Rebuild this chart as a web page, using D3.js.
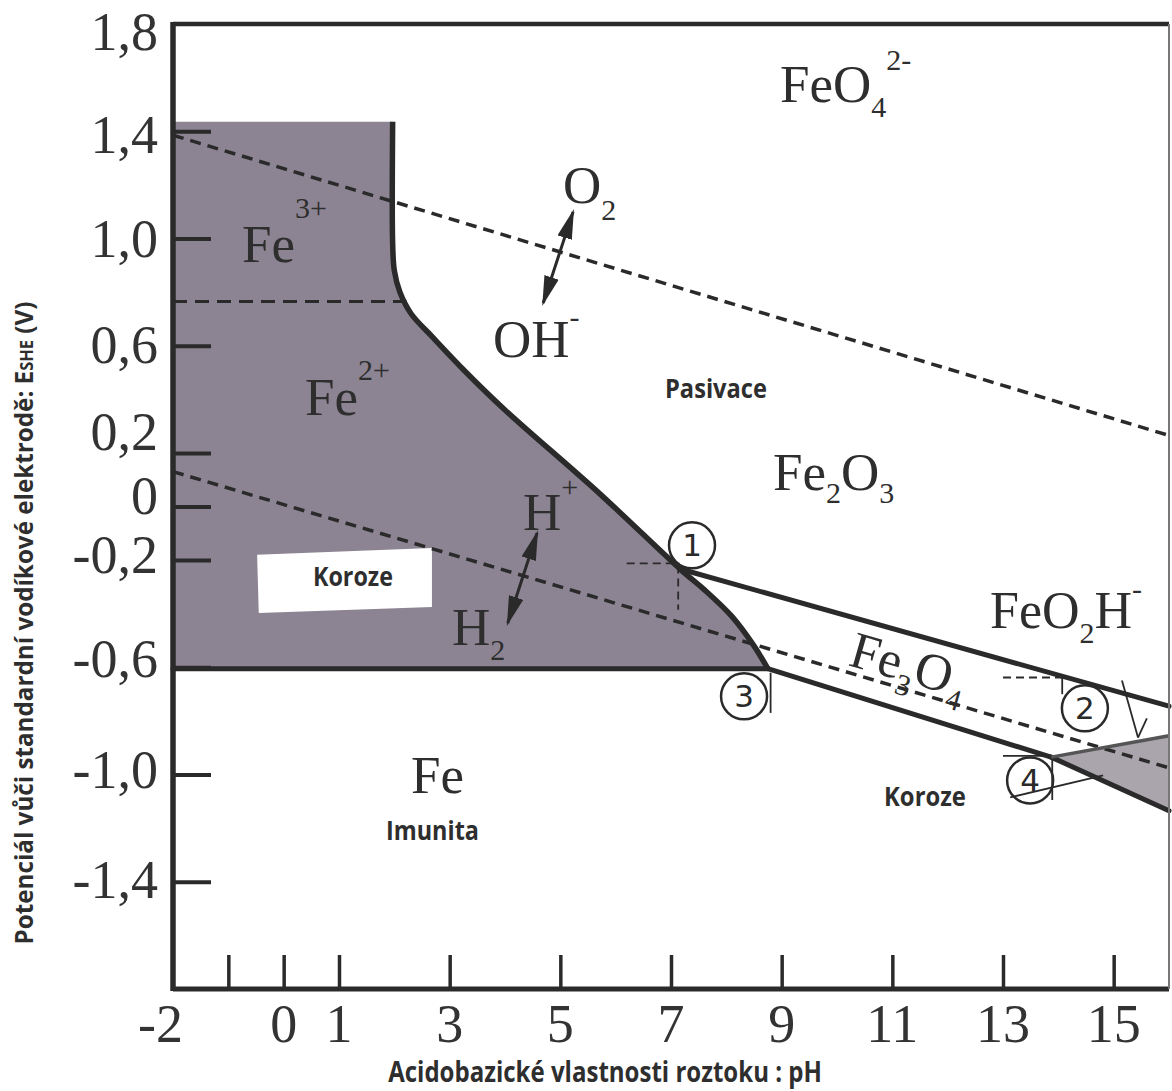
<!DOCTYPE html>
<html><head><meta charset="utf-8">
<script src="https://cdn.jsdelivr.net/npm/d3@7"></script>
<style>html,body{margin:0;padding:0;background:#fff;} svg{display:block;}</style>
</head><body>
<svg id="chart" width="1172" height="1091"></svg>
<script>
// ---------- data (pH, E in V) ----------
const xTickValues = [-1, 0, 1, 3, 5, 7, 9, 11, 13, 15];
const xLabelValues = [-2, 0, 1, 3, 5, 7, 9, 11, 13, 15];
const yTickValues = [1.4, 1.0, 0.6, 0.2, 0, -0.2, -0.6, -1.0, -1.4];
const yLabelValues = [1.8, 1.4, 1.0, 0.6, 0.2, 0, -0.2, -0.6, -1.0, -1.4];
const yLabelTexts = ["1,8", "1,4", "1,0", "0,6", "0,2", "0", "-0,2", "-0,6", "-1,0", "-1,4"];

const corrosionTop = 1.435;
const feLevel = -0.605;
const corrosionBoundary = [[1.97,1.435],[1.97,0.98],[2.0,0.88],[2.1,0.80],[2.3,0.72],[2.7,0.63],[3.3,0.50],[4.0,0.36],[5.7,0.05],[7.2,-0.24],[7.6,-0.31],[8.1,-0.41],[8.5,-0.52],[8.75,-0.605]];
const fe3Fe2Line = [[-2,0.765],[2.22,0.765]];
const oxygenLine = [[-2,1.385],[16,0.265]];
const hydrogenLine = [[-2,0.13],[16,-0.975]];
const fe2o3Fe3o4Line = [[7.2,-0.235],[16,-0.745]];
const fe3o4FeLine = [[8.75,-0.605],[13.87,-0.935]];
const wedgeTop = [[13.87,-0.935],[16,-0.855]];
const wedgeBottom = [[13.87,-0.935],[16,-1.135]];
const korozeBox = [[-0.48,-0.18],[2.68,-0.155],[2.68,-0.375],[-0.45,-0.397]];

const guideDashed = [
  [[6.2,-0.212],[7.15,-0.212]],
  [[7.13,-0.22],[7.13,-0.385]],
  [[13.0,-0.638],[14.07,-0.638]]
];
const guideSolid = [
  [[14.07,-0.638],[14.07,-0.70]],
  [[8.8,-0.62],[8.8,-0.77]],
  [[13.0,-0.93],[13.89,-0.93]],
  [[13.89,-0.935],[13.89,-1.095]],
  [[13.13,-1.085],[14.81,-1.003]],
  [[15.15,-0.649],[15.44,-0.862]],
  [[15.44,-0.862],[15.6,-0.79]]
];
const circleMarks = [
  {n:"1", pH:7.38, E:-0.145},
  {n:"2", pH:14.48, E:-0.753},
  {n:"3", pH:8.32, E:-0.708},
  {n:"4", pH:13.49, E:-1.022}
];
const arrows = [
  [[4.69,0.759],[5.23,1.099]],
  [[4.05,-0.435],[4.58,-0.099]]
];
// chemical species labels: parts [text, size, baseline shift]
const speciesLabels = [
  {pH:-0.753, E:0.912, parts:[["Fe",53,0],["3+",30,-44]]},
  {pH:0.386, E:0.341, parts:[["Fe",53,0],["2+",30,-35]]},
  {pH:8.97, E:1.509, parts:[["FeO",53,0],["4",30,15],["2-",30,-32]]},
  {pH:5.048, E:1.132, parts:[["O",53,0],["2",30,17]]},
  {pH:3.783, E:0.558, parts:[["OH",53,0],["-",30,-30]]},
  {pH:8.843, E:0.062, parts:[["Fe",53,0],["2",30,13],["O",53,0],["3",30,13]]},
  {pH:4.325, E:-0.088, parts:[["H",53,0],["+",30,-33]]},
  {pH:3.042, E:-0.517, parts:[["H",53,0],["2",30,15]]},
  {pH:2.301, E:-1.069, parts:[["Fe",53,0]]},
  {pH:12.765, E:-0.453, parts:[["FeO",52,0],["2",30,15],["H",52,0],["-",30,-29]]}
];
const fe3o4Label = {pH:10.18, E:-0.591, angle:16, parts:[["Fe",52,0],["3",30,14],["O",52,0],["4",30,14]]};
const regionLabels = [
  {pH:6.892, E:0.405, text:"Pasivace", w:102},
  {pH:0.53, E:-0.297, text:"Koroze", w:80},
  {pH:1.849, E:-1.244, text:"Imunita", w:93},
  {pH:10.85, E:-1.117, text:"Koroze", w:82}
];
const xTitle = "Acidobazické vlastnosti roztoku : pH";
const yTitleParts = ["Potenciál vůči standardní vodíkové elektrodě: E", "SHE", " (V)"];

// ---------- drawing ----------
const svg = d3.select("#chart");
const x = d3.scaleLinear().domain([-2, 16]).range([173, 1169]);
const y = d3.scaleLinear().domain([-1.8, 1.8]).range([989, 24]);
const line = d3.line().x(d => x(d[0])).y(d => y(d[1]));
const curve = d3.line().x(d => x(d[0])).y(d => y(d[1])).curve(d3.curveCatmullRom.alpha(0.5));
const INK = "#2a2a2a";
const SERIF = "'Liberation Serif','Times New Roman',serif";
const SANS = "'Open Sans','Noto Sans',sans-serif";
// baseline offsets of the y tick labels as printed in the original
const yLabelDy = [26, 22, 19, 17, -3, 7, 13, 10, 13, 16];

const defs = svg.append("defs");
defs.append("marker").attr("id","ah").attr("viewBox","0 0 10 10")
  .attr("refX",9).attr("refY",5).attr("markerUnits","userSpaceOnUse")
  .attr("markerWidth",30).attr("markerHeight",15).attr("preserveAspectRatio","none")
  .attr("orient","auto-start-reverse")
  .append("path").attr("d","M0,0 L10,5 L0,10 Z").attr("fill",INK);

// shaded corrosion region
const bPath = curve(corrosionBoundary);
svg.append("path")
  .attr("d", `M${x(-2)},${y(corrosionTop)}L` + bPath.slice(1) + `L${x(-2)},${y(feLevel)}Z`)
  .attr("fill", "#8c8492");
// wedge (FeO2H-)
svg.append("path")
  .attr("d", line([wedgeTop[0], wedgeTop[1], wedgeBottom[1]]) + "Z")
  .attr("fill", "#aaa5ad");
// white label box
svg.append("path").attr("d", line(korozeBox) + "Z").attr("fill", "#ffffff");

// dashed water lines
[oxygenLine, hydrogenLine].forEach(l => {
  svg.append("path").attr("d", line(l)).attr("fill","none")
    .attr("stroke", INK).attr("stroke-width", 3.5).attr("stroke-dasharray","11,7");
});
svg.append("path").attr("d", line(fe3Fe2Line)).attr("fill","none")
  .attr("stroke", INK).attr("stroke-width", 3).attr("stroke-dasharray","14,8");
guideDashed.forEach(l => svg.append("path").attr("d", line(l)).attr("fill","none")
  .attr("stroke", INK).attr("stroke-width", 1.8).attr("stroke-dasharray","8,5"));
guideSolid.forEach(l => svg.append("path").attr("d", line(l)).attr("fill","none")
  .attr("stroke", INK).attr("stroke-width", 1.8));

// thick phase boundaries
svg.append("path").attr("d", bPath).attr("fill","none").attr("stroke",INK).attr("stroke-width",5.5).attr("stroke-linejoin","round");
[[[-2,feLevel],[8.75,feLevel]], fe2o3Fe3o4Line, fe3o4FeLine, wedgeBottom].forEach(l =>
  svg.append("path").attr("d", line(l)).attr("fill","none").attr("stroke",INK).attr("stroke-width",5).attr("stroke-linecap","round"));
svg.append("path").attr("d", line(wedgeTop)).attr("fill","none").attr("stroke","#555").attr("stroke-width",3.5);

// arrows
arrows.forEach(a => svg.append("path").attr("d", line(a)).attr("fill","none")
  .attr("stroke",INK).attr("stroke-width",3)
  .attr("marker-start","url(#ah)").attr("marker-end","url(#ah)"));

// frame
const fr = svg.append("g").attr("stroke",INK).attr("fill","none");
fr.append("line").attr("x1",x(-2)).attr("x2",x(-2)).attr("y1",y(1.8)-2).attr("y2",y(-1.8)+2).attr("stroke-width",5.5);
fr.append("line").attr("x1",x(-2)).attr("x2",x(16)).attr("y1",y(1.8)).attr("y2",y(1.8)).attr("stroke-width",4.5);
fr.append("line").attr("x1",x(-2)).attr("x2",x(16)).attr("y1",y(-1.8)).attr("y2",y(-1.8)).attr("stroke-width",5);
fr.append("line").attr("x1",x(16)).attr("x2",x(16)).attr("y1",y(1.8)).attr("y2",y(-1.8)).attr("stroke-width",2).attr("stroke","#777");

// axes (inside ticks)
const gx = svg.append("g").attr("transform",`translate(0,${y(-1.8)})`)
  .call(d3.axisBottom(x).tickValues(xTickValues).tickSize(-34).tickFormat(""));
const gy = svg.append("g").attr("transform",`translate(${x(-2)},0)`)
  .call(d3.axisLeft(y).tickValues(yTickValues).tickSize(-38).tickFormat(""));
[gx, gy].forEach(g => { g.select(".domain").remove(); g.selectAll(".tick line").attr("stroke",INK).attr("stroke-width",4); });
gx.selectAll(".tick line").attr("stroke-width",3.5);

// tick labels
svg.append("g").selectAll("text").data(xLabelValues).join("text")
  .attr("x", d => d < 0 ? x(d) + 10 : x(d))
  .attr("y", y(-1.8) + 53)
  .attr("text-anchor", d => d < 0 ? "end" : "middle")
  .attr("font-family", SERIF).attr("font-size", 54).attr("fill", "#333")
  .text(d => d);
svg.append("g").selectAll("text").data(yLabelValues).join("text")
  .attr("x", 158).attr("y", (d,i) => y(d) + yLabelDy[i])
  .attr("text-anchor","end")
  .attr("font-family", SERIF).attr("font-size", 54).attr("fill", "#333")
  .text((d,i) => yLabelTexts[i]);

// species labels
function chem(parent, x0, y0, parts) {
  const t = parent.append("text").attr("x", x0).attr("y", y0)
    .attr("font-family", SERIF).attr("fill", "#2e2e2e");
  parts.forEach(p => t.append("tspan").attr("y", y0 + p[2]).attr("font-size", p[1]).text(p[0]));
  return t;
}
speciesLabels.forEach(l => chem(svg, x(l.pH), y(l.E), l.parts));
const g34 = svg.append("g").attr("transform", `translate(${x(fe3o4Label.pH)},${y(fe3o4Label.E)}) rotate(${fe3o4Label.angle})`);
chem(g34, 0, 0, fe3o4Label.parts);

// circled numbers
circleMarks.forEach(c => {
  svg.append("circle").attr("cx", x(c.pH)).attr("cy", y(c.E)).attr("r", 23)
    .attr("fill","none").attr("stroke",INK).attr("stroke-width",2.5);
  svg.append("text").attr("x", x(c.pH)).attr("y", y(c.E) + 11).attr("text-anchor","middle")
    .attr("font-family","'DejaVu Sans',sans-serif").attr("font-size",31).attr("fill",INK).text(c.n);
});

// bold region labels, fitted to measured width
function fitted(parent, x0, y0, txt, w, size, anchor) {
  const g = parent.append("g").attr("transform", `translate(${x0},${y0})`);
  const t = g.append("text").attr("font-family", SANS).attr("font-weight", 700)
    .attr("font-size", size).attr("fill", "#2e2e2e").attr("text-anchor", anchor || "start").text(txt);
  const bw = t.node().getComputedTextLength();
  t.attr("transform", `scale(${w / bw},1)`);
  return g;
}
regionLabels.forEach(l => fitted(svg, x(l.pH), y(l.E), l.text, l.w, 26));

// axis titles
fitted(svg, 605, 1082, xTitle, 434, 28, "middle");
const yt = svg.append("g").attr("transform", "translate(33,623) rotate(-90)");
const ytText = yt.append("text").attr("font-family", SANS).attr("font-weight", 700)
  .attr("font-size", 25).attr("fill", "#2e2e2e").attr("text-anchor","middle");
ytText.append("tspan").text(yTitleParts[0]);
ytText.append("tspan").attr("font-size", 17).text(yTitleParts[1]);
ytText.append("tspan").text(yTitleParts[2]);
const ytw = ytText.node().getBBox().width;
ytText.attr("transform", `scale(${643 / ytw},1)`);
</script>
</body></html>
